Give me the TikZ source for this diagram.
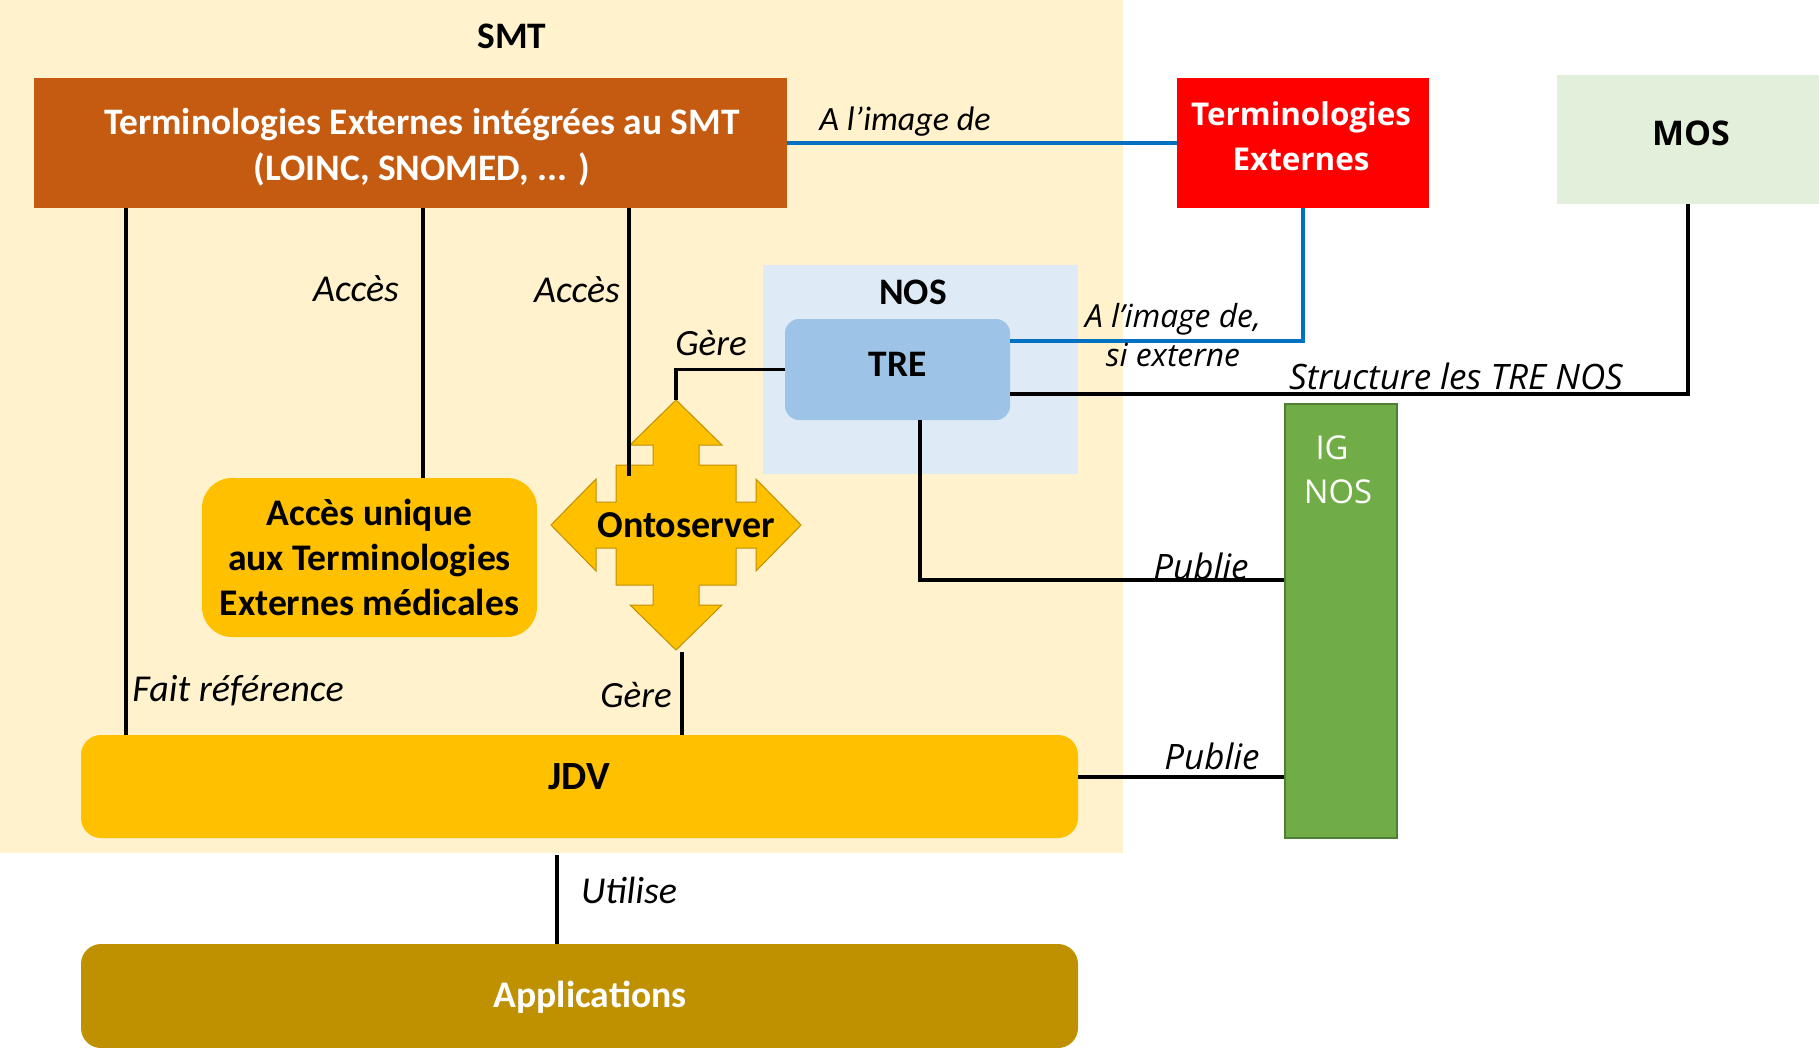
\documentclass[tikz,border=0pt]{standalone}
\usepackage{fontspec}
\setmainfont{Carlito}
\newfontfamily\osans{Open Sans}
\definecolor{smtbg}{HTML}{FFF2CC}
\definecolor{brownbox}{HTML}{C55A11}
\definecolor{mosbg}{HTML}{E2EFDA}
\definecolor{nosbg}{HTML}{DEEBF7}
\definecolor{trebox}{HTML}{9DC3E6}
\definecolor{igbox}{HTML}{70AD47}
\definecolor{igborder}{HTML}{507E32}
\definecolor{goldbox}{HTML}{FFC000}
\definecolor{goldborder}{HTML}{BF9000}
\definecolor{appsbox}{HTML}{BF9000}
\definecolor{linkblue}{HTML}{0070C0}
\tikzset{
  boxbase/.style={inner sep=0pt, align=center},
  title/.style={font=\fontsize{18.7}{22}\selectfont\bfseries},
  lbl/.style={font=\fontsize{19}{22}\selectfont\itshape, inner sep=0pt},
  olbl/.style={font=\osans\fontsize{17.5}{20}\selectfont\itshape, inner sep=0pt, align=center},
  blackline/.style={draw=black, line width=1.6pt},
  blueline/.style={draw=linkblue, line width=1.6pt},
}
\begin{document}
\begin{tikzpicture}[x=0.5pt,y=-0.5pt]
\useasboundingbox (0,0) rectangle (1819,1048);
% SMT background
\fill[smtbg] (0,0) rectangle (1123,853);
\node[title] (smt) at (512,36) {SMT};
% NOS background
\node[boxbase, fill=nosbg, minimum width=157.5pt, minimum height=104.5pt] (nos) at (920.5,369.5) {};
\node[title] (nostitle) at (913,292) {NOS};
% boxes
\node[boxbase, fill=brownbox, minimum width=376.5pt, minimum height=65pt] (brown) at (410.5,143) {};
\node[boxbase, text=white, font=\fontsize{18.7}{23}\selectfont\bfseries] (browntxt) at (422,147)
      {Terminologies Externes intégrées au SMT\\(LOINC, SNOMED, ... )};
\node[boxbase, fill=red, minimum width=126pt, minimum height=65pt] (ext) at (1303,143) {};
\node[boxbase, text=white, font=\osans\fontsize{15.7}{22.6}\selectfont\bfseries] (exttxt) at (1301,136)
      {Terminologies\\Externes};
\node[boxbase, fill=mosbg, minimum width=131pt, minimum height=64.5pt] (mos) at (1688,139.5) {};
\node[font=\osans\fontsize{17}{20}\selectfont\bfseries, inner sep=0pt] (mostxt) at (1691,133) {MOS};
\node[boxbase, fill=trebox, rounded corners=7pt, minimum width=112.5pt, minimum height=50.5pt,
      title] (tre) at (897.5,369.5) {\raisebox{5pt}{TRE}};
\node[boxbase, fill=igbox, draw=igborder, line width=0.6pt, minimum width=56pt, minimum height=217pt] (ig) at (1341,621) {};
\node[text=white, font=\osans\fontsize{16.4}{22}\selectfont, align=center, inner sep=0pt] (igtxt) at (1332,470) {IG\\\hspace*{6pt}NOS};
\node[boxbase, fill=goldbox, rounded corners=10pt, minimum width=498.5pt, minimum height=51.5pt] (jdv) at (579.5,786.5) {};
\node[font=\fontsize{20}{22}\selectfont\bfseries, inner sep=0pt] (jdvtxt) at (579,777) {JDV};
\node[boxbase, fill=appsbox, rounded corners=10pt, minimum width=498.5pt, minimum height=52pt] (apps) at (579.5,996) {};
\node[font=\fontsize{18.8}{22}\selectfont\bfseries, text=white, inner sep=0pt] (appstxt) at (590,997) {Applications};
\node[boxbase, fill=goldbox, rounded corners=15pt, minimum width=167.5pt, minimum height=79.5pt,
      font=\fontsize{18.8}{22.5}\selectfont\bfseries] (acces) at (369.5,557.5)
      {Accès unique\\aux Terminologies\\Externes médicales};
% Ontoserver quad arrow
\def\oc{60}\def\os{23}\def\ob{80}\def\oh{46}\def\ot{125}
\begin{scope}[shift={(676,525)}]
\filldraw[fill=goldbox, draw=goldborder, line width=0.5pt]
 (0,-\ot) -- (\oh,-\ob) -- (\os,-\ob) -- (\os,-\oc) -- (\oc,-\oc) -- (\oc,-\os) -- (\ob,-\os) -- (\ob,-\oh)
 -- (\ot,0) -- (\ob,\oh) -- (\ob,\os) -- (\oc,\os) -- (\oc,\oc) -- (\os,\oc) -- (\os,\ob) -- (\oh,\ob)
 -- (0,\ot) -- (-\oh,\ob) -- (-\os,\ob) -- (-\os,\oc) -- (-\oc,\oc) -- (-\oc,\os) -- (-\ob,\os) -- (-\ob,\oh)
 -- (-\ot,0) -- (-\ob,-\oh) -- (-\ob,-\os) -- (-\oc,-\os) -- (-\oc,-\oc) -- (-\os,-\oc) -- (-\os,-\ob) -- (-\oh,-\ob) -- cycle;
\coordinate (ontoN) at (0,-\ot);
\end{scope}
\node[font=\fontsize{19}{22}\selectfont\bfseries, inner sep=0pt] (onto) at (686,525) {Ontoserver};
% coordinates
\coordinate (acc1x) at (423,0);
\coordinate (acc2end) at (629,476);
\coordinate (utilstart) at (557,855);
\coordinate (gere2start) at (682,652);
\coordinate (frx) at (126,0);
\coordinate (treNE) at ([yshift=14.25pt]tre.east);
\coordinate (treSE) at ([yshift=-12.25pt]tre.east);
\coordinate (treB) at ([xshift=11.25pt]tre.south);
\coordinate (igP1) at ([yshift=20.5pt]ig.west);
\coordinate (jdvE) at ([yshift=4.75pt]jdv.east);
% connectors
\draw[blueline] (brown.east) -- (ext.west);
\draw[blueline] (ext.south) |- (treNE);
\draw[blackline] (mos.south) |- (treSE);
\draw[blackline] (treB) |- (igP1);
\draw[blackline] (jdvE) -- (jdvE -| ig.west);
\draw[blackline] (tre.west) -| (ontoN);
\draw[blackline] (brown.south -| frx) -- (jdv.north -| frx);
\draw[blackline] (brown.south -| acc1x) -- (acces.north -| acc1x);
\draw[blackline] (brown.south -| acc2end) -- (acc2end);
\draw[blackline] (gere2start) -- (gere2start |- jdv.north);
\draw[blackline] (utilstart) -- (utilstart |- apps.north);
% labels
\node[lbl, font=\fontsize{17}{20}\selectfont\itshape] (l1) at (905,122) {A l’image de};
\node[lbl] (l2) at (356,289) {Accès};
\node[lbl] (l3) at (577,290) {Accès};
\node[lbl, font=\fontsize{18.5}{20}\selectfont\itshape] (l4) at (711,343) {Gère};
\node[lbl, anchor=west] (l5) at (132,691) {Fait référence};
\node[lbl, font=\fontsize{18.5}{20}\selectfont\itshape] (l6) at (636,695) {Gère};
\node[lbl] (l7) at (629,890) {Utilise};
\node[olbl, font=\osans\fontsize{15.9}{19.5}\selectfont\itshape] (l8) at (1173,335) {A l’image de,\\si externe};
\node[olbl] (l9) at (1456,376) {Structure les TRE NOS};
\node[olbl] (l10) at (1201,566) {Publie};
\node[olbl] (l11) at (1212,756) {Publie};
\end{tikzpicture}
\end{document}
